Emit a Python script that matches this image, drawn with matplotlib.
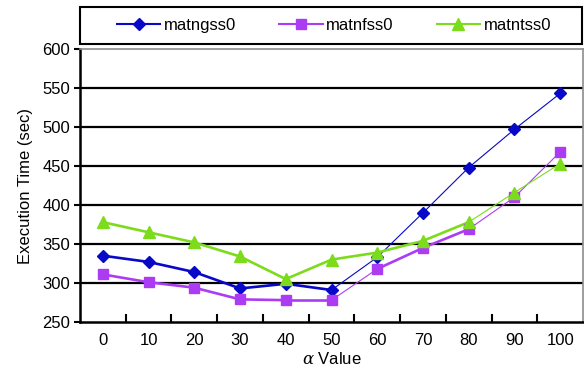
import matplotlib
matplotlib.use("Agg")
import matplotlib.pyplot as plt
from matplotlib.patches import Rectangle
from matplotlib.lines import Line2D

plt.rcParams['font.family'] = ['Liberation Sans', 'DejaVu Sans']
plt.rcParams['mathtext.fontset'] = 'dejavuserif'

categories = ["0", "10", "20", "30", "40", "50", "60", "70", "80", "90", "100"]
matngss0 = [335, 327, 314, 293, 299, 291, 333, 390, 448, 497, 543]
matnfss0 = [311, 301, 294, 279, 278, 278, 318, 345, 369, 410, 468]
matntss0 = [378, 365, 352, 334, 305, 330, 339, 354, 378, 416, 453]
y_ticks = [250, 300, 350, 400, 450, 500, 550, 600]

# per-segment line widths (thick / thin) as seen in the reference
THICK, THIN = 1.9, 0.8
widths = {
    "matngss0": [THICK] * 5 + [THIN] * 5,
    "matnfss0": [THICK] * 5 + [THIN] + [THICK] * 2 + [THIN] * 2,
    "matntss0": [THICK] * 8 + [THIN] * 2,
}

series = [
    ("matngss0", matngss0, "#0808C8", "D", 6.5),
    ("matnfss0", matnfss0, "#AC3CF4", "s", 7.5),
    ("matntss0", matntss0, "#7CDC1C", "^", 9),
]

FS = 12

fig = plt.figure(figsize=(5.84, 3.78), dpi=100)
ax = fig.add_axes([80 / 584, (378 - 322) / 378, 503 / 584, 273 / 378])

x = list(range(len(categories)))
handles = []
for name, vals, color, marker, ms in series:
    lw = widths[name]
    for i in range(len(vals) - 1):
        ax.plot(x[i:i + 2], vals[i:i + 2], color=color, lw=lw[i],
                solid_capstyle='round', zorder=3)
    ax.plot(x, vals, linestyle='none', marker=marker, markersize=ms,
            color=color, markeredgecolor=color, zorder=4)
    handles.append(Line2D([], [], color=color, lw=1.5, marker=marker,
                          markersize=ms * 0.9, markeredgecolor=color))

ax.set_xlim(-0.5, len(categories) - 0.5)
ax.set_ylim(250, 600)
ax.set_yticks(y_ticks)
ax.set_xticks(x)
ax.set_xticklabels(categories, fontsize=FS)
ax.tick_params(axis='x', length=0, pad=8)
ax.set_xticks([i + 0.5 for i in range(len(categories) - 1)], minor=True)
ax.tick_params(axis='x', which='minor', direction='in', length=6, width=1.5,
               color='black')
ax.tick_params(axis='y', direction='out', length=4, width=1.5, labelsize=FS,
               pad=3)

for yv in y_ticks[1:-1]:
    ax.axhline(yv, color='black', lw=1.6, zorder=1)

for s in ['left', 'bottom']:
    ax.spines[s].set_color('black')
    ax.spines[s].set_linewidth(1.8)
for s in ['top', 'right']:
    ax.spines[s].set_color('#8c8c8c')
    ax.spines[s].set_linewidth(1.2)

ax.set_ylabel("Execution Time (sec)", fontsize=FS, labelpad=7)
ax.set_xlabel(r"$\alpha$ Value", fontsize=FS, labelpad=2)

# legend box
fig.patches.append(Rectangle((80 / 584, (378 - 44) / 378), 502 / 584, 37 / 378,
                             transform=fig.transFigure, fill=False,
                             edgecolor='black', lw=1.5))
fig.legend(handles, [s[0] for s in series], loc='center',
           bbox_to_anchor=(334 / 584, (378 - 25.5) / 378), ncol=3,
           frameon=False, fontsize=FS, handlelength=2.6, handletextpad=0.2,
           columnspacing=2.6)

fig.savefig("out.png", dpi=100)
